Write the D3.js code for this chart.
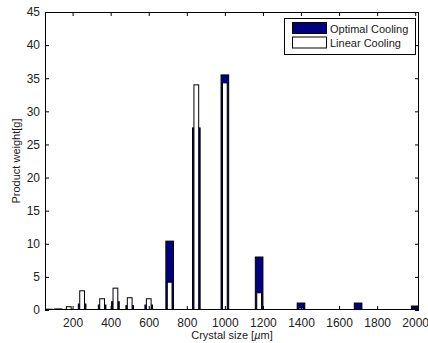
<!DOCTYPE html>
<html>
<head>
<meta charset="utf-8">
<script src="https://cdn.jsdelivr.net/npm/d3@7"></script>
<style>
  html, body { margin: 0; padding: 0; background: #fff; }
  svg { display: block; }
  text { font-family: "Liberation Sans", Arial, sans-serif; font-size: 11px; fill: #1a1a1a; }
  .tick text { font-size: 12px; fill: #222; }
</style>
</head>
<body>
<svg id="chart" width="428" height="343"></svg>
<script>
// Sieve sizes (µm) and product mass per size class (g)
const sizes = [75, 125, 180, 250, 355, 425, 500, 600, 710, 850, 1000, 1180, 1400, 1700, 2000];
const optimalCooling = [0.1, 0.15, 0.1, 0.9, 0.75, 1.25, 0.65, 0.75, 10.4, 27.5, 35.5, 8.0, 1.05, 1.05, 0.6];
const linearCooling  = [0.1, 0.1, 0.5, 2.9, 1.7, 3.3, 1.85, 1.7, 4.2, 34.0, 34.3, 2.6, 0.3, 0, 0];
const xTicks = [200, 400, 600, 800, 1000, 1200, 1400, 1600, 1800, 2000];
const yTicks = [0, 5, 10, 15, 20, 25, 30, 35, 40, 45];
const seriesNames = ["Optimal Cooling", "Linear Cooling"];

const svg = d3.select("#chart");
const plotLeft = 45, plotRight = 419, plotTop = 12, plotBottom = 310;
const tickLen = 4;

// bar widths in data units (fraction of the smallest spacing between sizes)
const minGap = 50;
const wideW = 0.8 * minGap, narrowW = 0.5 * minGap;

const x = d3.scaleLinear().domain([sizes[0] - wideW / 2, sizes[sizes.length - 1] + wideW / 2]).range([plotLeft, plotRight]);
const y = d3.scaleLinear().domain([0, 45]).range([plotBottom, plotTop]);

svg.append("clipPath").attr("id", "plotClip")
  .append("rect").attr("x", plotLeft).attr("y", plotTop).attr("width", plotRight - plotLeft).attr("height", plotBottom - plotTop);

const plot = svg.append("g").attr("clip-path", "url(#plotClip)");

// filled bars: optimal cooling
plot.selectAll("rect.opt").data(sizes).join("rect")
  .attr("class", "opt")
  .attr("x", (d) => x(d - wideW / 2))
  .attr("width", (d) => x(d + wideW / 2) - x(d - wideW / 2))
  .attr("y", (d, i) => y(optimalCooling[i]))
  .attr("height", (d, i) => y(0) - y(optimalCooling[i]))
  .attr("fill", "#000080")
  .attr("stroke", "#000")
  .attr("stroke-width", 1);

// open bars drawn over them: linear cooling
const linData = sizes.map((s, i) => ({ s, v: linearCooling[i] })).filter((d) => d.v > 0);
plot.selectAll("rect.lin").data(linData).join("rect")
  .attr("class", "lin")
  .attr("x", (d) => x(d.s - narrowW / 2))
  .attr("width", (d) => x(d.s + narrowW / 2) - x(d.s - narrowW / 2))
  .attr("y", (d) => y(d.v))
  .attr("height", (d) => y(0) - y(d.v))
  .attr("fill", "#fff")
  .attr("stroke", "#000")
  .attr("stroke-width", 1);

// axes: ticks inward on all four sides, labels on bottom and left
const axisStyle = (g) => {
  g.select(".domain").remove();
  g.selectAll(".tick line").attr("stroke", "#000");
  g.attr("font-family", null).attr("font-size", null);
};

svg.append("g").attr("transform", `translate(0,${plotBottom})`)
  .call(d3.axisBottom(x).tickValues(xTicks).tickFormat(d3.format("d")).tickSizeInner(-tickLen).tickSizeOuter(0).tickPadding(8))
  .call(axisStyle);
svg.append("g").attr("transform", `translate(0,${plotTop})`)
  .call(d3.axisTop(x).tickValues(xTicks).tickSizeInner(-tickLen).tickSizeOuter(0).tickFormat(""))
  .call(axisStyle);
svg.append("g").attr("transform", `translate(${plotLeft},0)`)
  .call(d3.axisLeft(y).tickValues(yTicks).tickFormat(d3.format("d")).tickSizeInner(-tickLen).tickSizeOuter(0).tickPadding(5))
  .call(axisStyle);
svg.append("g").attr("transform", `translate(${plotRight},0)`)
  .call(d3.axisRight(y).tickValues(yTicks).tickSizeInner(-tickLen).tickSizeOuter(0).tickFormat(""))
  .call(axisStyle);

// axes box
svg.append("rect")
  .attr("x", plotLeft + 0.5).attr("y", plotTop + 0.5)
  .attr("width", plotRight - plotLeft - 1).attr("height", plotBottom - plotTop - 1)
  .attr("fill", "none").attr("stroke", "#000").attr("stroke-width", 1);

// axis labels
const xl = svg.append("text")
  .attr("x", (plotLeft + plotRight) / 2).attr("y", 339)
  .attr("text-anchor", "middle");
xl.append("tspan").text("Crystal size [");
xl.append("tspan").attr("font-style", "italic").text("µ");
xl.append("tspan").text("m]");

svg.append("text")
  .attr("transform", `translate(20,${(plotTop + plotBottom) / 2}) rotate(-90)`)
  .attr("text-anchor", "middle")
  .text("Product weight[g]");

// legend
const lg = svg.append("g").attr("transform", "translate(284,18)");
lg.append("rect").attr("x", 0.5).attr("y", 0.5).attr("width", 131).attr("height", 36)
  .attr("fill", "#fff").attr("stroke", "#000");
const swatchFill = ["#000080", "#fff"];
seriesNames.forEach((name, i) => {
  lg.append("rect")
    .attr("x", 8.5).attr("y", 4.5 + i * 14.5)
    .attr("width", 34).attr("height", 11)
    .attr("fill", swatchFill[i]).attr("stroke", "#000");
  lg.append("text")
    .attr("x", 46).attr("y", 14.5 + i * 14.5)
    .text(name);
});
</script>
</body>
</html>
